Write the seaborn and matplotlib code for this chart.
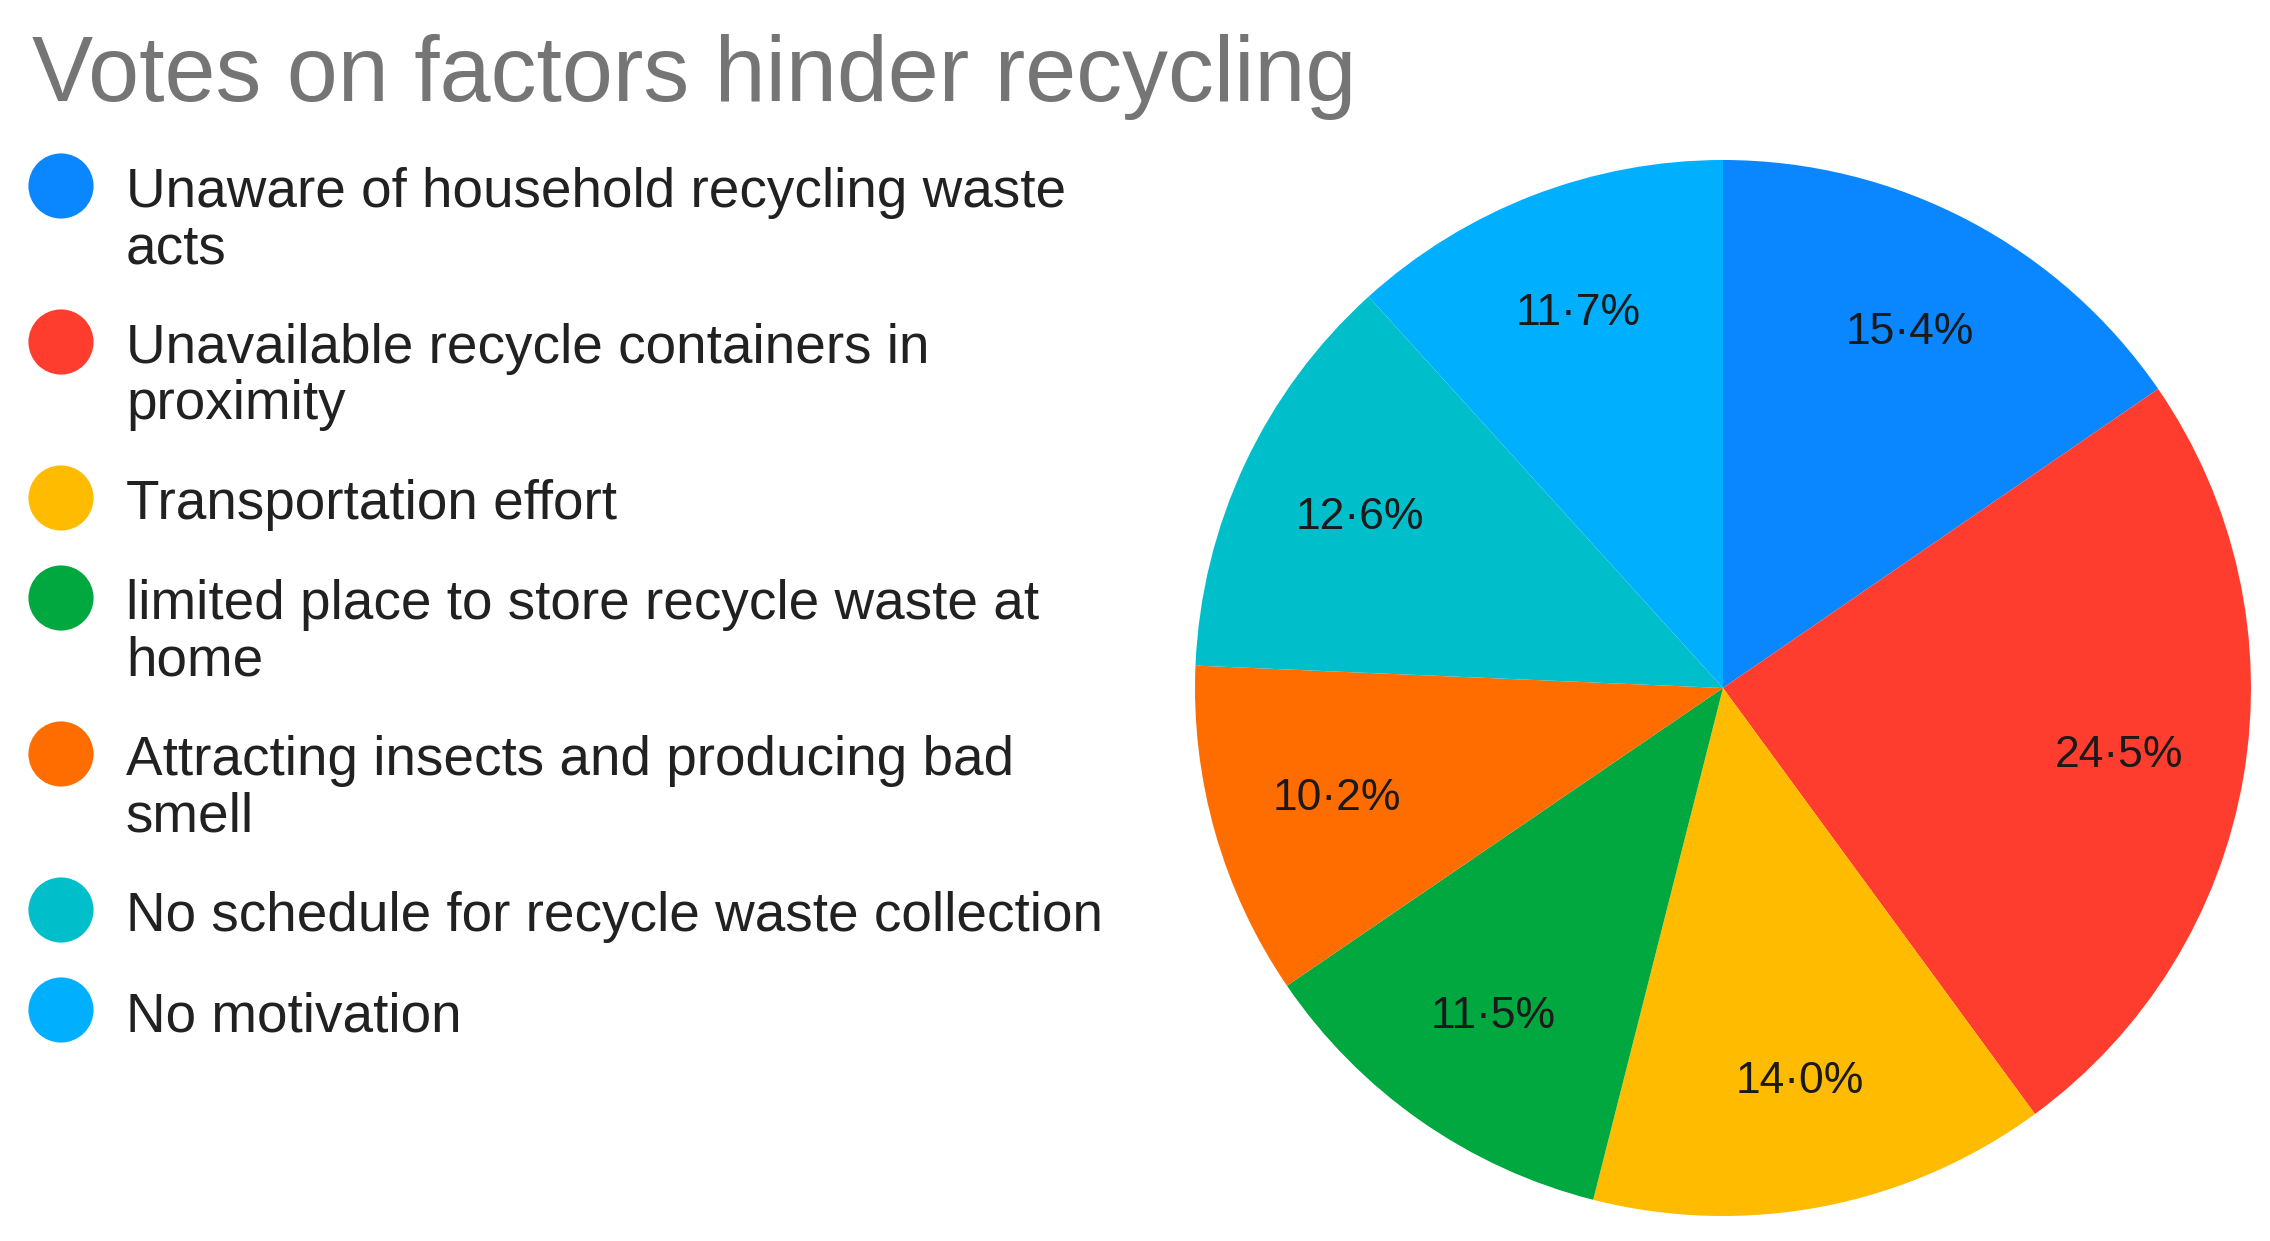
"""
    Pie chart: votes on factors that hinder recycling
"""

import matplotlib
matplotlib.use("Agg")
import matplotlib.pyplot as plt
import seaborn as sns

# Donnees
labels = [
    "Unaware of household recycling waste\nacts",
    "Unavailable recycle containers in\nproximity",
    "Transportation effort",
    "limited place to store recycle waste at\nhome",
    "Attracting insects and producing bad\nsmell",
    "No schedule for recycle waste collection",
    "No motivation",
]
shares = [15.4, 24.5, 14.0, 11.5, 10.2, 12.6, 11.7]
colors = ["#0A86FF", "#FF3D2E", "#FFBB00", "#00A83F", "#FF6D00", "#00BFCA", "#00B0FF"]

TITLE = "Votes on factors hinder recycling"

sns.set_theme(style="white")
plt.rcParams["font.family"] = ["Liberation Sans", "DejaVu Sans"]

W, H, DPI = 2270, 1241, 100
fig = plt.figure(figsize=(W / DPI, H / DPI), dpi=DPI)
fig.patch.set_facecolor("white")

# Axe de mise en page en pixels (titre + legende)
lay = fig.add_axes([0, 0, 1, 1])
lay.set_xlim(0, W)
lay.set_ylim(H, 0)
lay.axis("off")

lay.text(32, 101, TITLE, fontsize=66, color="#757575", va="baseline", ha="left")

# Legende manuelle
y = 207
line_h, gap = 56, 44
for lab, col in zip(labels, colors):
    lines = lab.split("\n")
    lay.scatter([61], [y - 21], s=2200, color=col, edgecolors="none", zorder=3)
    for i, ln in enumerate(lines):
        lay.text(126, y + i * line_h, ln, fontsize=39.5, color="#212121",
                 va="baseline", ha="left")
    y += len(lines) * line_h + gap

# Camembert
cx, cy, r = 1723, 688, 528
ax = fig.add_axes([(cx - r) / W, (H - cy - r) / H, 2 * r / W, 2 * r / H])
wedges, texts, autotexts = ax.pie(
    shares, colors=colors, startangle=90, counterclock=False,
    autopct=lambda p: "{:.1f}%".format(p).replace(".", "\u00b7"),
    pctdistance=0.76, wedgeprops=dict(linewidth=0),
    textprops=dict(fontsize=32, color="#1a1a1a"),
)
ax.set_xlim(-1, 1)
ax.set_ylim(-1, 1)
ax.set_aspect("equal")
ax.axis("off")

fig.savefig("out.png", dpi=DPI, facecolor="white")
